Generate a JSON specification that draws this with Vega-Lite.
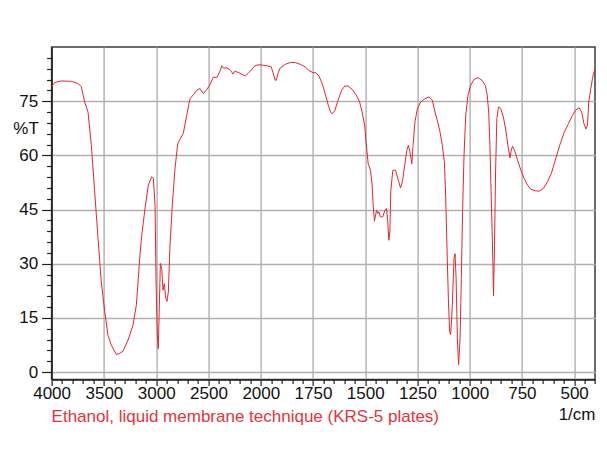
{
  "$schema": "https://vega.github.io/schema/vega-lite/v6.json",
  "width": 543.4,
  "height": 332.4,
  "autosize": "none",
  "padding": {"left": 51.6, "top": 47, "right": 12, "bottom": 72.6},
  "background": "white",
  "title": {
    "text": "Ethanol, liquid membrane technique (KRS-5 plates)",
    "orient": "bottom",
    "anchor": "start",
    "frame": "group",
    "color": "#e8333b",
    "font": "Liberation Sans",
    "fontSize": 17,
    "fontWeight": "normal",
    "baseline": "top",
    "offset": -13
  },
  "data": {
    "values": [
      {"wavenumber": 4000, "T": 79.0}, {"wavenumber": 3970, "T": 80.2}, {"wavenumber": 3907, "T": 80.6},
      {"wavenumber": 3812, "T": 80.5}, {"wavenumber": 3748, "T": 79.9}, {"wavenumber": 3716, "T": 79.0},
      {"wavenumber": 3684, "T": 74.8}, {"wavenumber": 3652, "T": 72.0}, {"wavenumber": 3620, "T": 62.8},
      {"wavenumber": 3588, "T": 49.9}, {"wavenumber": 3556, "T": 37.0}, {"wavenumber": 3525, "T": 25.0},
      {"wavenumber": 3492, "T": 16.7}, {"wavenumber": 3461, "T": 10.2}, {"wavenumber": 3429, "T": 7.5},
      {"wavenumber": 3381, "T": 4.9}, {"wavenumber": 3349, "T": 5.2}, {"wavenumber": 3317, "T": 5.8},
      {"wavenumber": 3269, "T": 8.9}, {"wavenumber": 3222, "T": 13.0}, {"wavenumber": 3190, "T": 18.5},
      {"wavenumber": 3171, "T": 26.0}, {"wavenumber": 3158, "T": 31.5}, {"wavenumber": 3138, "T": 37.9},
      {"wavenumber": 3107, "T": 45.3}, {"wavenumber": 3075, "T": 51.8}, {"wavenumber": 3043, "T": 54.1},
      {"wavenumber": 3027, "T": 53.6}, {"wavenumber": 3011, "T": 46.2}, {"wavenumber": 3002, "T": 25.9},
      {"wavenumber": 2989, "T": 10.2}, {"wavenumber": 2980, "T": 6.5}, {"wavenumber": 2970, "T": 18.5},
      {"wavenumber": 2960, "T": 30.1}, {"wavenumber": 2947, "T": 28.7}, {"wavenumber": 2935, "T": 22.7},
      {"wavenumber": 2922, "T": 24.5}, {"wavenumber": 2909, "T": 20.4}, {"wavenumber": 2897, "T": 19.6},
      {"wavenumber": 2884, "T": 22.2}, {"wavenumber": 2868, "T": 35.1}, {"wavenumber": 2846, "T": 46.2},
      {"wavenumber": 2820, "T": 56.4}, {"wavenumber": 2794, "T": 63.3}, {"wavenumber": 2772, "T": 64.5},
      {"wavenumber": 2741, "T": 66.1}, {"wavenumber": 2708, "T": 71.1}, {"wavenumber": 2677, "T": 75.7},
      {"wavenumber": 2645, "T": 76.8}, {"wavenumber": 2613, "T": 78.0}, {"wavenumber": 2581, "T": 78.5},
      {"wavenumber": 2549, "T": 77.1}, {"wavenumber": 2517, "T": 78.2}, {"wavenumber": 2485, "T": 79.6},
      {"wavenumber": 2454, "T": 81.7}, {"wavenumber": 2421, "T": 81.5}, {"wavenumber": 2390, "T": 83.3},
      {"wavenumber": 2373, "T": 84.8}, {"wavenumber": 2358, "T": 84.2}, {"wavenumber": 2323, "T": 84.2},
      {"wavenumber": 2291, "T": 83.6}, {"wavenumber": 2265, "T": 82.5}, {"wavenumber": 2249, "T": 83.3},
      {"wavenumber": 2211, "T": 82.9}, {"wavenumber": 2179, "T": 82.4}, {"wavenumber": 2148, "T": 82.0},
      {"wavenumber": 2122, "T": 82.7}, {"wavenumber": 2091, "T": 83.6}, {"wavenumber": 2058, "T": 84.8},
      {"wavenumber": 2020, "T": 85.1}, {"wavenumber": 1994, "T": 85.0}, {"wavenumber": 1970, "T": 84.8},
      {"wavenumber": 1950, "T": 84.5}, {"wavenumber": 1938, "T": 82.2}, {"wavenumber": 1931, "T": 80.8},
      {"wavenumber": 1926, "T": 80.8}, {"wavenumber": 1918, "T": 82.7}, {"wavenumber": 1907, "T": 84.2},
      {"wavenumber": 1883, "T": 85.2}, {"wavenumber": 1859, "T": 85.7}, {"wavenumber": 1835, "T": 85.7},
      {"wavenumber": 1811, "T": 85.2}, {"wavenumber": 1787, "T": 84.5}, {"wavenumber": 1770, "T": 83.5},
      {"wavenumber": 1750, "T": 82.9}, {"wavenumber": 1738, "T": 82.9}, {"wavenumber": 1722, "T": 82.0},
      {"wavenumber": 1706, "T": 79.9}, {"wavenumber": 1690, "T": 76.7}, {"wavenumber": 1677, "T": 73.9},
      {"wavenumber": 1666, "T": 72.0}, {"wavenumber": 1658, "T": 71.5}, {"wavenumber": 1645, "T": 72.5},
      {"wavenumber": 1630, "T": 75.3}, {"wavenumber": 1613, "T": 78.0}, {"wavenumber": 1598, "T": 79.2},
      {"wavenumber": 1582, "T": 79.2}, {"wavenumber": 1563, "T": 78.3}, {"wavenumber": 1544, "T": 76.8},
      {"wavenumber": 1527, "T": 74.8}, {"wavenumber": 1515, "T": 72.0}, {"wavenumber": 1503, "T": 68.4},
      {"wavenumber": 1496, "T": 63.7}, {"wavenumber": 1486, "T": 57.7}, {"wavenumber": 1475, "T": 55.9},
      {"wavenumber": 1467, "T": 51.8}, {"wavenumber": 1462, "T": 46.2}, {"wavenumber": 1456, "T": 41.8},
      {"wavenumber": 1446, "T": 44.8}, {"wavenumber": 1440, "T": 43.9}, {"wavenumber": 1435, "T": 44.4},
      {"wavenumber": 1427, "T": 43.0}, {"wavenumber": 1416, "T": 43.0}, {"wavenumber": 1406, "T": 44.8},
      {"wavenumber": 1398, "T": 45.3}, {"wavenumber": 1392, "T": 41.6}, {"wavenumber": 1387, "T": 36.5},
      {"wavenumber": 1382, "T": 38.8}, {"wavenumber": 1378, "T": 49.9}, {"wavenumber": 1368, "T": 55.9},
      {"wavenumber": 1355, "T": 55.9}, {"wavenumber": 1343, "T": 53.4}, {"wavenumber": 1331, "T": 51.0},
      {"wavenumber": 1322, "T": 52.7}, {"wavenumber": 1311, "T": 57.3}, {"wavenumber": 1301, "T": 61.4},
      {"wavenumber": 1293, "T": 62.8}, {"wavenumber": 1286, "T": 61.0}, {"wavenumber": 1277, "T": 57.7},
      {"wavenumber": 1271, "T": 62.8}, {"wavenumber": 1262, "T": 69.3}, {"wavenumber": 1250, "T": 73.0},
      {"wavenumber": 1234, "T": 74.8}, {"wavenumber": 1214, "T": 75.7}, {"wavenumber": 1195, "T": 76.2},
      {"wavenumber": 1179, "T": 75.3}, {"wavenumber": 1166, "T": 72.0}, {"wavenumber": 1155, "T": 69.7},
      {"wavenumber": 1142, "T": 66.5}, {"wavenumber": 1131, "T": 62.8}, {"wavenumber": 1121, "T": 58.2},
      {"wavenumber": 1115, "T": 49.0}, {"wavenumber": 1109, "T": 35.1}, {"wavenumber": 1102, "T": 20.4},
      {"wavenumber": 1096, "T": 11.2}, {"wavenumber": 1091, "T": 10.4}, {"wavenumber": 1083, "T": 18.5},
      {"wavenumber": 1075, "T": 31.5}, {"wavenumber": 1070, "T": 32.8}, {"wavenumber": 1065, "T": 25.9},
      {"wavenumber": 1059, "T": 9.3}, {"wavenumber": 1053, "T": 2.1}, {"wavenumber": 1046, "T": 9.3},
      {"wavenumber": 1040, "T": 25.9}, {"wavenumber": 1034, "T": 44.4}, {"wavenumber": 1027, "T": 60.1},
      {"wavenumber": 1019, "T": 71.1}, {"wavenumber": 1008, "T": 76.7}, {"wavenumber": 995, "T": 79.4},
      {"wavenumber": 979, "T": 81.1}, {"wavenumber": 959, "T": 81.5}, {"wavenumber": 940, "T": 80.7},
      {"wavenumber": 925, "T": 79.4}, {"wavenumber": 916, "T": 76.7}, {"wavenumber": 909, "T": 72.0},
      {"wavenumber": 903, "T": 62.8}, {"wavenumber": 897, "T": 49.0}, {"wavenumber": 890, "T": 33.3},
      {"wavenumber": 886, "T": 21.1}, {"wavenumber": 881, "T": 35.1}, {"wavenumber": 876, "T": 55.4},
      {"wavenumber": 870, "T": 70.2}, {"wavenumber": 862, "T": 73.4}, {"wavenumber": 852, "T": 73.0},
      {"wavenumber": 839, "T": 70.7}, {"wavenumber": 827, "T": 67.0}, {"wavenumber": 817, "T": 62.8},
      {"wavenumber": 807, "T": 59.3}, {"wavenumber": 801, "T": 61.4}, {"wavenumber": 795, "T": 62.5},
      {"wavenumber": 785, "T": 61.4}, {"wavenumber": 771, "T": 58.7}, {"wavenumber": 755, "T": 55.9},
      {"wavenumber": 739, "T": 53.6}, {"wavenumber": 723, "T": 51.8}, {"wavenumber": 707, "T": 50.6},
      {"wavenumber": 686, "T": 50.2}, {"wavenumber": 667, "T": 50.1}, {"wavenumber": 648, "T": 50.8},
      {"wavenumber": 627, "T": 52.7}, {"wavenumber": 607, "T": 55.4}, {"wavenumber": 588, "T": 59.1},
      {"wavenumber": 569, "T": 62.8}, {"wavenumber": 548, "T": 66.3}, {"wavenumber": 527, "T": 68.8},
      {"wavenumber": 508, "T": 71.1}, {"wavenumber": 493, "T": 72.5}, {"wavenumber": 476, "T": 73.2},
      {"wavenumber": 464, "T": 72.0}, {"wavenumber": 453, "T": 68.8}, {"wavenumber": 443, "T": 67.3},
      {"wavenumber": 436, "T": 68.4}, {"wavenumber": 430, "T": 74.8}, {"wavenumber": 420, "T": 78.5},
      {"wavenumber": 412, "T": 81.3}, {"wavenumber": 407, "T": 82.7}, {"wavenumber": 400, "T": 84.0}
    ]
  },
  "mark": {"type": "line", "color": "#e3262f", "strokeWidth": 1, "clip": true},
  "encoding": {
    "x": {
      "field": "wavenumber",
      "type": "quantitative",
      "scale": {"domain": [4000, 2000, 400], "range": [0, 209.2, 543.4], "zero": false, "nice": false},
      "axis": {
        "title": "1/cm",
        "titleX": 543.4,
        "titleY": 40,
        "titleAlign": "right",
        "titleBaseline": "alphabetic",
        "titleFont": "Liberation Sans",
        "titleFontSize": 17,
        "titleFontWeight": "normal",
        "titleColor": "#111111",
        "format": "d",
        "values": [4000, 3900, 3800, 3700, 3600, 3500, 3400, 3300, 3200, 3100, 3000, 2900, 2800, 2700, 2600, 2500, 2400, 2300, 2200, 2100, 2000, 1950, 1900, 1850, 1800, 1750, 1700, 1650, 1600, 1550, 1500, 1450, 1400, 1350, 1300, 1250, 1200, 1150, 1100, 1050, 1000, 950, 900, 850, 800, 750, 700, 650, 600, 550, 500, 450, 400],
        "labelExpr": "indexof([4000,3500,3000,2500,2000,1750,1500,1250,1000,750,500], datum.value) >= 0 ? datum.label : ''",
        "labelFont": "Liberation Sans",
        "labelFontSize": 17,
        "labelColor": "#111111",
        "labelPadding": 0,
        "labelFlush": false,
        "labelOverlap": false,
        "labelBound": false,
        "tickSize": {"condition": {"test": "indexof([4000,3500,3000,2500,2000,1750,1500,1250,1000,750,500], datum.value) >= 0", "value": 6}, "value": 4},
        "tickColor": "#222222",
        "tickWidth": 1.2,
        "domainColor": "#222222",
        "domainWidth": 1.5,
        "grid": true,
        "gridColor": "#b0b0b0",
        "gridWidth": 1.4,
        "gridOpacity": {"condition": {"test": "indexof([3500,3000,2500,2000,1750,1500,1250,1000,750,500], datum.value) >= 0", "value": 1}, "value": 0}
      }
    },
    "y": {
      "field": "T",
      "type": "quantitative",
      "scale": {"domain": [-2, 90], "zero": false, "nice": false},
      "axis": {
        "title": "%T",
        "titleAngle": 0,
        "titleX": -26,
        "titleY": 81,
        "titleAlign": "center",
        "titleBaseline": "middle",
        "titleFont": "Liberation Sans",
        "titleFontSize": 17,
        "titleFontWeight": "normal",
        "titleColor": "#111111",
        "values": [0, 3, 6, 9, 12, 15, 18, 21, 24, 27, 30, 33, 36, 39, 42, 45, 48, 51, 54, 57, 60, 63, 66, 69, 72, 75, 78, 81, 84, 87],
        "labelExpr": "datum.value % 15 === 0 ? datum.label : ''",
        "labelFont": "Liberation Sans",
        "labelFontSize": 17,
        "labelColor": "#111111",
        "labelPadding": 4,
        "labelFlush": false,
        "labelOverlap": false,
        "labelBound": false,
        "tickSize": {"condition": {"test": "datum.value % 15 === 0", "value": 10}, "value": 5},
        "tickColor": "#222222",
        "tickWidth": 1.2,
        "domainColor": "#222222",
        "domainWidth": 1.5,
        "grid": true,
        "gridColor": "#b0b0b0",
        "gridWidth": 1.4,
        "gridOpacity": {"condition": {"test": "datum.value % 15 === 0", "value": 1}, "value": 0}
      }
    }
  },
  "config": {
    "view": {"stroke": "#3c3c3c", "strokeWidth": 1.5}
  }
}
